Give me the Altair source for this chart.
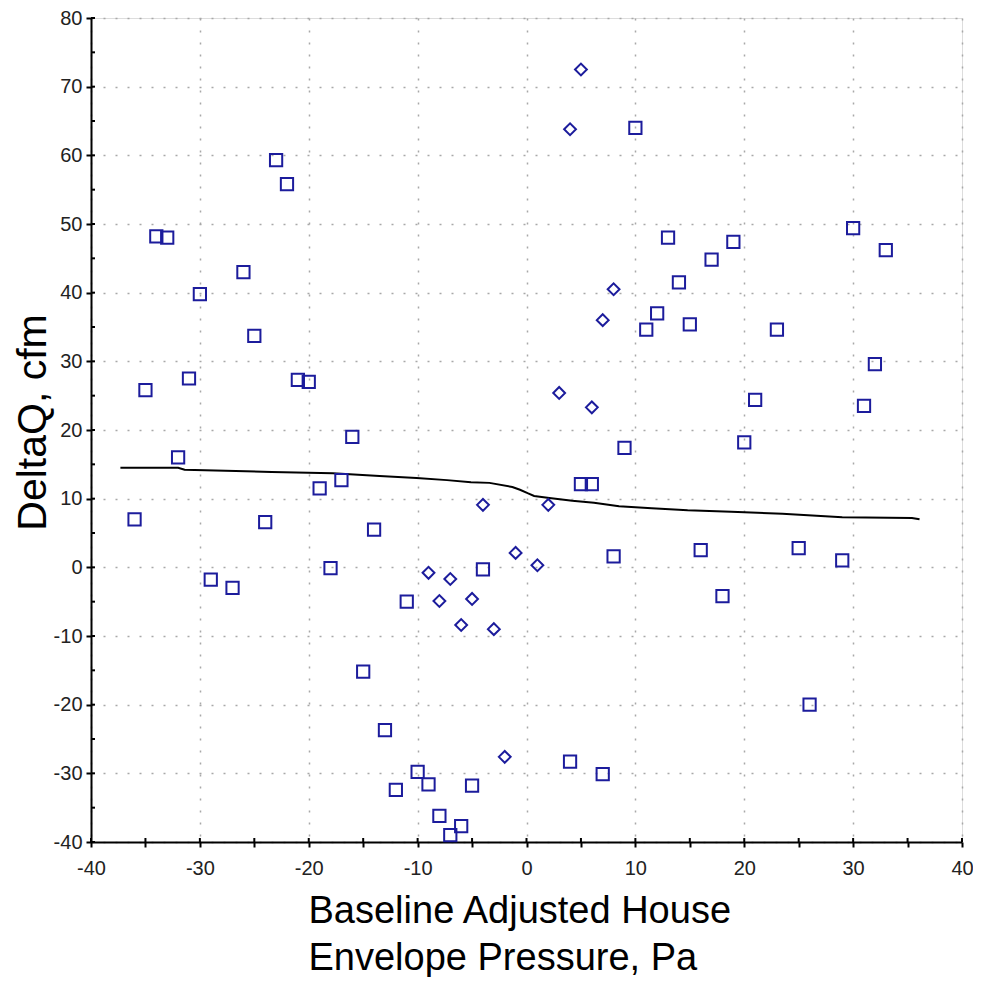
import altair as alt
import pandas as pd

# Square markers
sq_x = [-36, -35, -34, -33, -32, -31, -30, -29, -27, -26, -25, -24, -23, -22, -21, -20,
        -19, -18, -17, -16, -15, -14, -13, -12, -11, -10, -9, -8, -7, -6, -5, -4,
        4, 5, 6, 7, 8, 9, 10, 11, 12, 13, 14, 15, 16, 17, 18, 19, 20, 21, 23, 25, 26,
        29, 30, 31, 32, 33]
sq_y = [7.0, 25.8, 48.2, 48.0, 16.0, 27.5, 39.8, -1.8, -3.0, 43.0, 33.7, 6.6, 59.3, 55.8, 27.3, 27.0,
        11.5, -0.1, 12.7, 19.0, -15.2, 5.5, -23.7, -32.4, -5.0, -29.8, -31.6, -36.2, -39.0, -37.7, -31.8, -0.3,
        -28.3, 12.1, 12.1, -30.1, 1.6, 17.4, 64.0, 34.6, 37.0, 48.0, 41.5, 35.4, 2.5, 44.8, -4.2, 47.4, 18.2, 24.4, 34.6, 2.8, -20.0,
        1.0, 49.4, 23.5, 29.6, 46.2]

# Diamond markers
dm_x = [5, 4, 8, 7, 3, 6, -4, 2, -9, -7, -1, 1, -8, -5, -6, -3, -2]
dm_y = [72.5, 63.8, 40.5, 36.0, 25.4, 23.3, 9.1, 9.1, -0.8, -1.7, 2.1, 0.3, -4.9, -4.6, -8.4, -9.0, -27.6]

# Trend line
ln_x = [-37.3, -32.0, -31.4, -23.4, -17.8, -13.5, -10.1, -7.3, -5.1, -3.4, -1.3, -0.6, 0.1, 0.7,
        2.1, 4.2, 6.2, 8.5, 11.5, 14.8, 18.8, 23.5, 29.0, 35.4, 36.1]
ln_y = [14.5, 14.5, 14.2, 13.9, 13.7, 13.3, 13.0, 12.7, 12.4, 12.3, 11.7, 11.3, 10.8, 10.4,
        10.1, 9.7, 9.4, 8.9, 8.6, 8.3, 8.1, 7.8, 7.3, 7.2, 7.0]

tick_vals = list(range(-40, 81, 5))
xtick_vals = list(range(-40, 41, 5))

FONT = "Liberation Sans, Arial, sans-serif"
BLUE = "#1c1c9c"

sq = pd.DataFrame({"x": sq_x, "y": sq_y})
dm = pd.DataFrame({"x": dm_x, "y": dm_y})
ln = pd.DataFrame({"x": ln_x, "y": ln_y})
yt = pd.DataFrame({"v": tick_vals})
xt = pd.DataFrame({"v": xtick_vals})

grid_op = {"condition": {"test": "datum.value % 10 == 0", "value": 1}, "value": 0}

xscale = alt.Scale(domain=[-40, 40], nice=False, zero=False)
yscale = alt.Scale(domain=[-40, 80], nice=False, zero=False)

xaxis = alt.Axis(
    values=xtick_vals,
    labelExpr="datum.value % 10 == 0 ? '' + datum.value : ''",
    title=["Baseline Adjusted House", "Envelope Pressure, Pa"],
    titleFont=FONT, titleFontSize=38, titleFontWeight="normal", titleColor="black",
    titleLineHeight=47, titleBaseline="alphabetic", titleAlign="left",
    titleY=80, titleX=217, titleAnchor="start",
    labelFont=FONT, labelFontSize=20, labelColor="#222", labelPadding=11,
    labelFlush=False, labelOverlap=False,
    domainColor="black", domainWidth=2,
    tickColor="black", tickWidth=2, tickSize=5,
    grid=True, gridColor="#a8a8a8", gridDash=[2, 10], gridWidth=1.5,
    gridOpacity=grid_op,
)
yaxis = alt.Axis(
    values=tick_vals,
    labelExpr="datum.value % 10 == 0 ? '' + datum.value : ''",
    title="DeltaQ, cfm",
    titleFont=FONT, titleFontSize=41, titleFontWeight="normal", titleColor="black",
    titleAngle=-90, titleBaseline="alphabetic", titleX=-46, titleY=404, titleAlign="center",
    labelFont=FONT, labelFontSize=20, labelColor="#222", labelPadding=4,
    labelFlush=False, labelOverlap=False,
    domainColor="black", domainWidth=2,
    tickColor="black", tickWidth=2, tickSize=5,
    grid=True, gridColor="#a8a8a8", gridDash=[2, 10], gridWidth=1.5,
    gridOpacity=grid_op,
)

squares = alt.Chart(sq).mark_point(
    shape="square", size=150, filled=False, color=BLUE, strokeWidth=2, opacity=1
).encode(
    x=alt.X("x:Q", scale=xscale, axis=xaxis),
    y=alt.Y("y:Q", scale=yscale, axis=yaxis),
)

diamonds = alt.Chart(dm).mark_point(
    shape="diamond", size=140, filled=False, color=BLUE, strokeWidth=2, opacity=1
).encode(x="x:Q", y="y:Q")

line = alt.Chart(ln).mark_line(color="black", strokeWidth=2).encode(
    x="x:Q", y="y:Q", order="x:Q"
)

# inward halves of the crossing tick marks
ytick_in = alt.Chart(yt).mark_rule(color="black", strokeWidth=2).encode(
    y=alt.Y("v:Q"), x=alt.value(0), x2=alt.value(4)
)
xtick_in = alt.Chart(xt).mark_rule(color="black", strokeWidth=2).encode(
    x=alt.X("v:Q"), y=alt.value(820), y2=alt.value(824)
)

chart = alt.layer(line, ytick_in, xtick_in, squares, diamonds).properties(
    width=871, height=824,
    autosize=alt.AutoSizeParams(type="none"),
    padding={"left": 83, "top": 10, "right": 11, "bottom": 135},
).configure_view(stroke=None).configure(background="white")

chart.save("out.html", embed_options={"renderer": "svg", "actions": False})
